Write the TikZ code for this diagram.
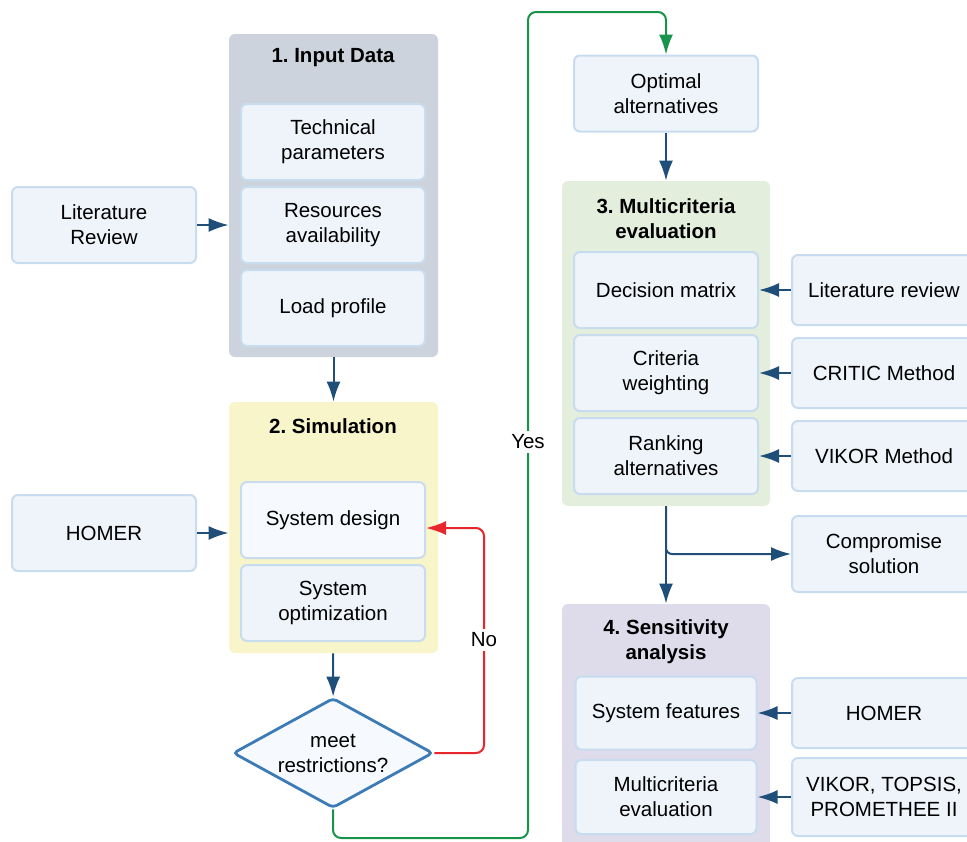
\documentclass[tikz,border=0pt]{standalone}
\usepackage{fontspec}
\setmainfont{Liberation Sans}
\usetikzlibrary{shapes.geometric,arrows.meta}
\frenchspacing

\definecolor{boxfill}{HTML}{EEF4FA}
\definecolor{boxlight}{HTML}{F6FAFE}
\definecolor{boxline}{HTML}{C8DCF0}
\definecolor{grayfill}{HTML}{CDD3DC}
\definecolor{yellowfill}{HTML}{F7F5C9}
\definecolor{greenfill}{HTML}{E3EEDD}
\definecolor{purplefill}{HTML}{DEDBEB}
\definecolor{arrowblue}{HTML}{1F4E79}
\definecolor{noRed}{HTML}{E8262B}
\definecolor{yesGreen}{HTML}{17944A}
\definecolor{diamondline}{HTML}{3D7BB6}

\begin{document}
\begin{tikzpicture}[x=0.5pt, y=-0.5pt, align=center, node distance=41.5pt,
  font=\fontsize{10.25}{12.5}\selectfont,
  group/.style={rounded corners=3pt, minimum width=104.5pt},
  box/.style={draw=boxline, fill=boxfill, line width=1pt, rounded corners=3pt,
    minimum width=92pt, minimum height=38pt, inner sep=1pt},
  sidebox/.style={box, minimum height=35pt},
  decision/.style={shape=diamond, draw=diamondline, fill=boxlight, line width=1.4pt,
    rounded corners=2pt, aspect=1.82, inner sep=1pt, minimum width=100pt, minimum height=55pt},
  flow/.style={draw=arrowblue, line width=1pt, -{Latex[length=10pt,width=7pt]}},
  noflow/.style={draw=noRed, line width=1pt, rounded corners=4pt, -{Latex[length=10pt,width=7pt]}},
  yesflow/.style={draw=yesGreen, line width=1pt, rounded corners=4pt, -{Latex[length=10pt,width=7pt]}},
  lbl/.style={fill=white, inner sep=2pt}]
\clip (0,0) rectangle (967,841);

%groups
\node (inputgrp) [group, fill=grayfill, minimum height=161.5pt] at (333.5,195.5) {};
\node (simgrp) [group, fill=yellowfill, minimum height=125.5pt] at (333.5,527.5) {};
\node (mcgrp) [group, fill=greenfill, minimum width=104pt, minimum height=162.5pt] at (666,343.5) {};
\node (sensgrp) [group, fill=purplefill, minimum width=104pt, minimum height=128pt] at (666,732) {};

\node (inputttl) at (333,58) {\bfseries 1. Input Data};
\node (simttl) at (333,426) {\bfseries 2. Simulation};
\node (mcttl) at (666,219) {\bfseries 3. Multicriteria\\\bfseries evaluation};
\node (sensttl) at (666,642) {\bfseries 4. Sensitivity\\\bfseries analysis};

%nodes
\node (techpar) [box] at (333,142) {Technical\\parameters};
\node (resavail) [box, below of=techpar] {Resources\\availability};
\node (loadprof) [box, below of=resavail] {Load profile};
\node (litrev) [box, left of=resavail, node distance=114.5pt] {Literature\\Review};

\node (sysdesign) [box, fill=boxlight] at (333,520) {System design};
\node (sysopt) [box, below of=sysdesign] {System\\optimization};
\node (homerL) [box] at (104,533) {HOMER};
\node (meet) [decision] at (333,753) {meet\\restrictions?};

\node (optalt) [box] at (666,93.5) {Optimal\\alternatives};
\node (decmat) [box] at (666,290) {Decision matrix};
\node (critw) [box, below of=decmat] {Criteria\\weighting};
\node (rankalt) [box, below of=critw] {Ranking\\alternatives};
\node (litrevR) [sidebox, right of=decmat, node distance=109pt] {Literature review};
\node (critic) [sidebox, right of=critw, node distance=109pt] {CRITIC Method};
\node (vikor) [sidebox, right of=rankalt, node distance=109pt] {VIKOR Method};
\node (compsol) [box] at (884,554) {Compromise\\solution};

\node (sysfeat) [box, minimum width=90.5pt, minimum height=36.5pt] at (666,713) {System features};
\node (mceval) [box, minimum width=90.5pt, minimum height=37pt, below of=sysfeat, node distance=42pt] {Multicriteria\\evaluation};
\node (homerR) [sidebox, right of=sysfeat, node distance=109pt] {HOMER};
\node (methods) [box, minimum height=39pt, right of=mceval, node distance=109pt] {VIKOR, TOPSIS,\\PROMETHEE II};

\coordinate (nocorner) at (484,528);
\coordinate (yesbot) at (528,838);
\coordinate (yestop) at (528,12);

%links
\draw[flow] (litrev.east) -- (inputgrp.west |- litrev);
\draw[flow] (inputgrp) -- (simgrp);
\draw[flow] (homerL.east) -- (simgrp.west |- homerL);
\draw[flow] (simgrp) -- (meet);
\draw[noflow] (meet.east) -| (nocorner) -- (sysdesign.east |- nocorner);
\draw[yesflow] (meet.south) |- (yesbot) -- (yestop) -| (optalt.north);
\node (nolbl) [lbl] at (484,640) {No};
\node (yeslbl) [lbl] at (528,442) {Yes};

\draw[flow] (optalt) -- (mcgrp);
\draw[flow] (litrevR) -- (decmat);
\draw[flow] (critic) -- (critw);
\draw[flow] (vikor) -- (rankalt);
\draw[flow] (mcgrp) -- (sensgrp);
\draw[flow, rounded corners=3pt] (mcgrp.south) |- (compsol.west);
\draw[flow] (homerR) -- (sysfeat);
\draw[flow] (methods) -- (mceval);
\end{tikzpicture}
\end{document}
